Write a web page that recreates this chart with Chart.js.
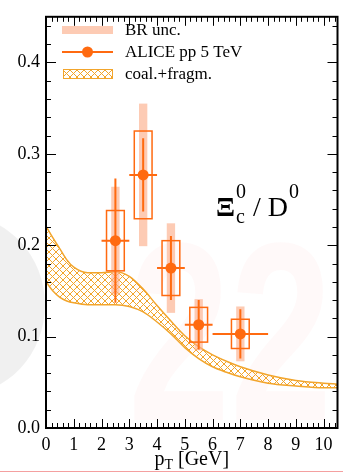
<!DOCTYPE html>
<html>
<head>
<meta charset="utf-8">
<script src="https://cdn.jsdelivr.net/npm/chart.js@4.4.0/dist/chart.umd.min.js"></script>
<style>
html, body { margin: 0; padding: 0; background: #fff; }
#wrap { width: 343px; height: 472px; position: relative; }
</style>
</head>
<body>
<div id="wrap"><canvas id="c"></canvas></div>
<script>
// ALICE pp 5 TeV, Xi_c0 / D0
var ptX = [2.5, 3.5, 4.5, 5.5, 7];
var ptY = [0.205, 0.277, 0.175, 0.113, 0.103];
var xErr = [0.5, 0.5, 0.5, 0.5, 1.0];
var statErr = [0.068, 0.040, 0.035, 0.027, 0.027];
var systErr = [0.033, 0.048, 0.030, 0.019, 0.016];
var brErr = [0.059, 0.078, 0.049, 0.028, 0.030];

// coal.+fragm. band
var modelX = [0, 0.25, 0.5, 0.75, 1, 1.5, 2, 2.5, 3, 3.5, 4, 4.5, 5, 5.5, 6, 6.5, 7, 8, 9, 10, 10.5];
var modelHi = [0.221, 0.208, 0.196, 0.184, 0.176, 0.170, 0.170, 0.171, 0.166, 0.152, 0.134, 0.117, 0.101, 0.089, 0.080, 0.073, 0.067, 0.058, 0.052, 0.049, 0.048];
var modelLo = [0.160, 0.150, 0.143, 0.139, 0.137, 0.135, 0.135, 0.135, 0.133, 0.127, 0.116, 0.103, 0.088, 0.076, 0.067, 0.061, 0.056, 0.049, 0.046, 0.044, 0.044];

var xTicks = [0, 1, 2, 3, 4, 5, 6, 7, 8, 9, 10];
var yTicks = [0, 0.1, 0.2, 0.3, 0.4];
var legendLabels = ['BR unc.', 'ALICE pp 5 TeV', 'coal.+fragm.'];

var ORANGE = '#ff6a10';
var SALMON = 'rgba(252,175,140,0.65)';
var HATCH = '#f2a52c';
var SERIF = '"Liberation Serif", "DejaVu Serif", serif';

var canvas = document.getElementById('c');
var hatchPattern = (function () {
  var t = document.createElement('canvas');
  t.width = 7; t.height = 7;
  var g = t.getContext('2d');
  g.strokeStyle = HATCH; g.lineWidth = 1;
  g.beginPath();
  g.moveTo(0, 0); g.lineTo(7, 7);
  g.moveTo(7, 0); g.lineTo(0, 7);
  g.stroke();
  return canvas.getContext('2d').createPattern(t, 'repeat');
})();

function xy(xs, ys) {
  return xs.map(function (x, i) { return { x: x, y: ys[i] }; });
}

// faint conference watermark behind everything
var backdrop = {
  id: 'backdrop',
  beforeDraw: function (chart) {
    var ctx = chart.ctx;
    ctx.save();
    ctx.fillStyle = '#fff';
    ctx.fillRect(0, 0, chart.width, chart.height);
    ctx.fillStyle = 'rgba(0,0,0,0.06)';
    ctx.beginPath();
    ctx.ellipse(-40, 305, 85, 90, 0, 0, Math.PI * 2);
    ctx.fill();
    ctx.translate(128, 420);
    ctx.scale(0.72, 1);
    ctx.fillStyle = 'rgba(255,110,110,0.045)';
    ctx.font = 'bold 255px "Liberation Sans", sans-serif';
    ctx.fillText('22', 0, 0);
    ctx.restore();
    ctx.save();
    ctx.strokeStyle = 'rgba(240,120,120,0.7)';
    ctx.lineWidth = 1;
    ctx.beginPath(); ctx.moveTo(0, 471.5); ctx.lineTo(chart.width, 471.5); ctx.stroke();
    ctx.restore();
  }
};

// BR bands, syst boxes, stat and x error bars under the markers
var errorBars = {
  id: 'errorBars',
  beforeDatasetDraw: function (chart, args) {
    if (args.index !== 0) return;
    var ctx = chart.ctx, xs = chart.scales.x, ys = chart.scales.y;
    ctx.save();
    ptX.forEach(function (x, i) {
      var px = xs.getPixelForValue(x);
      var y = ptY[i];
      // BR uncertainty
      ctx.fillStyle = SALMON;
      var bx0 = xs.getPixelForValue(x - 0.15), bx1 = xs.getPixelForValue(x + 0.15);
      var by0 = ys.getPixelForValue(y + brErr[i]), by1 = ys.getPixelForValue(y - brErr[i]);
      ctx.fillRect(bx0, by0, bx1 - bx0, by1 - by0);
      // syst box
      ctx.strokeStyle = ORANGE;
      ctx.lineWidth = 1.5;
      var sx0 = xs.getPixelForValue(x - 0.32), sx1 = xs.getPixelForValue(x + 0.32);
      var sy0 = ys.getPixelForValue(y + systErr[i]), sy1 = ys.getPixelForValue(y - systErr[i]);
      ctx.strokeRect(sx0, sy0, sx1 - sx0, sy1 - sy0);
      // stat + x error
      ctx.lineWidth = 2;
      ctx.beginPath();
      ctx.moveTo(px, ys.getPixelForValue(y + statErr[i]));
      ctx.lineTo(px, ys.getPixelForValue(y - statErr[i]));
      var py = ys.getPixelForValue(y);
      ctx.moveTo(xs.getPixelForValue(x - xErr[i]), py);
      ctx.lineTo(xs.getPixelForValue(x + xErr[i]), py);
      ctx.stroke();
    });
    ctx.restore();
  }
};

// frame, inward ticks, titles, legend, annotation
var decorations = {
  id: 'decorations',
  afterDraw: function (chart) {
    var ctx = chart.ctx, a = chart.chartArea, xs = chart.scales.x, ys = chart.scales.y;
    ctx.save();
    ctx.strokeStyle = '#000';
    ctx.lineWidth = 1;
    ctx.beginPath();
    var v, p, len;
    for (v = 0; v <= 10.5001; v += 0.2) {
      p = Math.round(xs.getPixelForValue(v)) + 0.5;
      len = Math.abs(v - Math.round(v)) < 1e-6 ? 9 : 5;
      ctx.moveTo(p, a.bottom); ctx.lineTo(p, a.bottom - len);
      ctx.moveTo(p, a.top); ctx.lineTo(p, a.top + len);
    }
    for (v = 0; v <= 0.4501; v += 0.02) {
      p = Math.round(ys.getPixelForValue(v)) + 0.5;
      len = Math.abs(v * 10 - Math.round(v * 10)) < 1e-6 ? 10 : 5;
      ctx.moveTo(a.left, p); ctx.lineTo(a.left + len, p);
      ctx.moveTo(a.right, p); ctx.lineTo(a.right - len, p);
    }
    ctx.stroke();
    ctx.lineWidth = 2;
    ctx.strokeRect(a.left, a.top, a.right - a.left, a.bottom - a.top);

    // x title with subscript
    ctx.fillStyle = '#000';
    ctx.textBaseline = 'alphabetic';
    ctx.textAlign = 'left';
    var big = '20px ' + SERIF, small = '14px ' + SERIF;
    ctx.font = big; var wp = ctx.measureText('p').width;
    var wr = ctx.measureText(' [GeV]').width;
    ctx.font = small; var wt = ctx.measureText('T').width;
    var x0 = (a.left + a.right) / 2 - (wp + wt + wr) / 2;
    ctx.font = big; ctx.fillText('p', x0, 465);
    ctx.font = small; ctx.fillText('T', x0 + wp, 469);
    ctx.font = big; ctx.fillText(' [GeV]', x0 + wp + wt, 465);

    // y title, mostly cut by the left edge
    ctx.save();
    ctx.translate(0, 220);
    ctx.rotate(-Math.PI / 2);
    ctx.textAlign = 'center';
    ctx.font = '20px ' + SERIF;
    ctx.fillText('Ratio', 0, 0);
    ctx.restore();

    // legend
    ctx.fillStyle = SALMON;
    ctx.fillRect(62, 26, 51, 8);
    ctx.strokeStyle = ORANGE; ctx.lineWidth = 2;
    ctx.beginPath(); ctx.moveTo(62, 52); ctx.lineTo(113, 52); ctx.stroke();
    ctx.fillStyle = ORANGE;
    ctx.beginPath(); ctx.arc(87.5, 52, 5.5, 0, Math.PI * 2); ctx.fill();
    ctx.fillStyle = hatchPattern;
    ctx.fillRect(63, 69, 50, 10);
    ctx.strokeStyle = HATCH; ctx.lineWidth = 1;
    ctx.strokeRect(63.5, 69.5, 49, 9);
    ctx.fillStyle = '#000';
    ctx.font = '17px ' + SERIF;
    ctx.fillText(legendLabels[0], 125, 35);
    ctx.fillText(legendLabels[1], 125, 57);
    ctx.fillText(legendLabels[2], 125, 79);

    // ratio label
    var main = '28px ' + SERIF, sub = '20px ' + SERIF;
    var x = 216;
    ctx.font = 'bold ' + main; ctx.fillText('\u039E', x, 216);
    x += ctx.measureText('\u039E').width + 1;
    ctx.font = sub;
    ctx.fillText('c', x, 223);
    ctx.fillText('0', x, 198);
    x += Math.max(ctx.measureText('c').width, ctx.measureText('0').width);
    ctx.font = main; ctx.fillText(' / D', x, 216);
    x += ctx.measureText(' / D').width;
    ctx.font = sub; ctx.fillText('0', x + 1, 198);
    ctx.restore();
  }
};

var tickFont = { family: SERIF, size: 18 };

new Chart(canvas, {
  type: 'scatter',
  data: {
    datasets: [
      {
        label: legendLabels[1],
        data: xy(ptX, ptY),
        backgroundColor: ORANGE,
        borderColor: ORANGE,
        pointRadius: 5.5,
        pointBorderWidth: 0
      },
      {
        label: legendLabels[2] + ' hi',
        data: xy(modelX, modelHi),
        showLine: true,
        cubicInterpolationMode: 'monotone',
        borderColor: HATCH,
        borderWidth: 1.5,
        pointRadius: 0,
        fill: false
      },
      {
        label: legendLabels[2] + ' lo',
        data: xy(modelX, modelLo),
        showLine: true,
        cubicInterpolationMode: 'monotone',
        borderColor: HATCH,
        borderWidth: 1.5,
        pointRadius: 0,
        backgroundColor: hatchPattern,
        fill: '-1'
      }
    ]
  },
  options: {
    responsive: true,
    maintainAspectRatio: false,
    animation: false,
    layout: { padding: { top: 13, right: 2, left: 0, bottom: 0 } },
    plugins: { legend: { display: false }, tooltip: { enabled: false } },
    scales: {
      x: {
        type: 'linear', min: 0, max: 10.5,
        afterBuildTicks: function (s) { s.ticks = xTicks.map(function (v) { return { value: v }; }); },
        afterFit: function (s) { s.height = 44; },
        grid: { display: false, drawTicks: false },
        border: { display: false },
        ticks: { font: tickFont, color: '#000', padding: 6, maxRotation: 0, autoSkip: false }
      },
      y: {
        type: 'linear', min: 0, max: 0.45,
        afterBuildTicks: function (s) { s.ticks = yTicks.map(function (v) { return { value: v }; }); },
        afterFit: function (s) { s.width = 46; },
        grid: { display: false, drawTicks: false },
        border: { display: false },
        ticks: { font: tickFont, color: '#000', padding: 6, autoSkip: false,
          callback: function (v) { return v.toFixed(1); } }
      }
    }
  },
  plugins: [backdrop, errorBars, decorations]
});
</script>
</body>
</html>
